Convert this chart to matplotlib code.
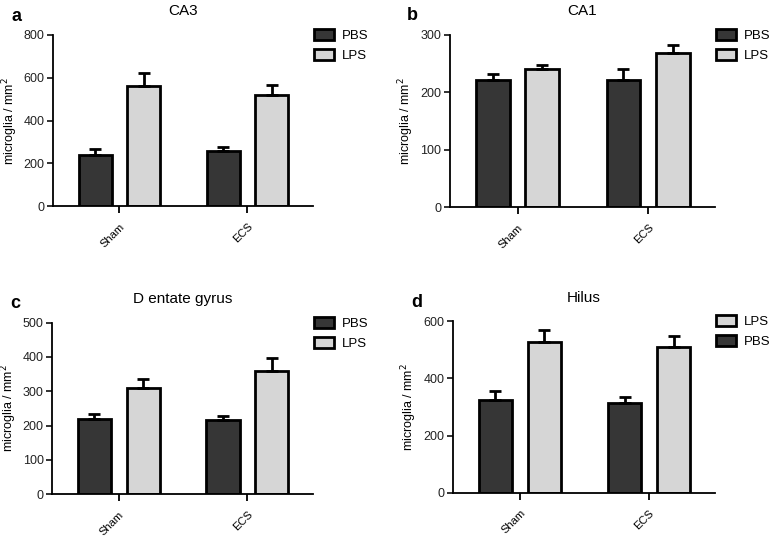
import numpy as np
import matplotlib
matplotlib.use("Agg")
import matplotlib.pyplot as plt

plt.rcParams['font.family'] = ['Liberation Sans', 'DejaVu Sans']

groups = ["Sham", "ECS"]

# panel a - CA3
ca3_pbs = [240, 258]
ca3_pbs_err = [25, 20]
ca3_lps = [560, 518]
ca3_lps_err = [60, 47]

# panel b - CA1
ca1_pbs = [222, 222]
ca1_pbs_err = [10, 19]
ca1_lps = [240, 268]
ca1_lps_err = [7, 14]

# panel c - Dentate gyrus
dg_pbs = [220, 216]
dg_pbs_err = [13, 12]
dg_lps = [310, 360]
dg_lps_err = [26, 36]

# panel d - Hilus
hil_pbs = [325, 315]
hil_pbs_err = [30, 20]
hil_lps = [528, 508]
hil_lps_err = [40, 40]

dark = "#363636"
light = "#d6d6d6"

fig = plt.figure(figsize=(7.78, 5.37), dpi=100)

panels = [
    ("a", "CA3", [0.068, 0.616, 0.334, 0.319], ca3_pbs, ca3_pbs_err, ca3_lps, ca3_lps_err, 800, 200, False),
    ("b", "CA1", [0.578, 0.614, 0.341, 0.321], ca1_pbs, ca1_pbs_err, ca1_lps, ca1_lps_err, 300, 100, False),
    ("c", "D entate gyrus", [0.067, 0.080, 0.335, 0.319], dg_pbs, dg_pbs_err, dg_lps, dg_lps_err, 500, 100, False),
    ("d", "Hilus", [0.582, 0.082, 0.337, 0.320], hil_pbs, hil_pbs_err, hil_lps, hil_lps_err, 600, 200, True),
]

x = np.arange(len(groups))
w = 0.26
off = 0.19

for letter, title, rect, pbs, pbs_e, lps, lps_e, ymax, step, swap in panels:
    ax = fig.add_axes(rect)
    ekw = dict(elinewidth=2, capthick=2, ecolor="black")
    b1 = ax.bar(x - off, pbs, w, color=dark, edgecolor="black", linewidth=2,
                yerr=[np.zeros(2), pbs_e], capsize=4.5, error_kw=ekw, label="PBS", zorder=2)
    b2 = ax.bar(x + off, lps, w, color=light, edgecolor="black", linewidth=2,
                yerr=[np.zeros(2), lps_e], capsize=4.5, error_kw=ekw, label="LPS", zorder=2)
    ax.set_xlim(-0.52, 1.51)
    ax.set_ylim(0, ymax)
    ax.set_yticks(np.arange(0, ymax + 1, step))
    ax.set_xticks(x)
    ax.set_xticklabels(groups, rotation=45, ha="right", rotation_mode="anchor", fontsize=8)
    ax.tick_params(axis="y", labelsize=9, width=1.3, length=4, pad=2, colors="#222222")
    ax.tick_params(axis="x", width=1.3, length=5, pad=6)
    for s in ["top", "right"]:
        ax.spines[s].set_visible(False)
    for s in ["left", "bottom"]:
        ax.spines[s].set_linewidth(1.3)
    ax.set_ylabel("microglia / mm$^2$", fontsize=9)
    ax.yaxis.set_label_coords(-0.128, 0.5)
    ax.set_title(title, fontsize=11, pad=14)
    ax.text(-0.16, 1.11, letter, transform=ax.transAxes, fontsize=13,
            fontweight="bold", va="center", ha="left")
    if swap:
        handles = [b2, b1]
    else:
        handles = [b1, b2]
    ax.legend(handles=handles, labels=[h.get_label() for h in handles],
              loc="upper left", bbox_to_anchor=(1.005, 1.035), frameon=False,
              borderpad=0, borderaxespad=0,
              fontsize=9.5, handlelength=1.5, handleheight=0.9, labelspacing=0.55,
              handletextpad=0.6)

fig.savefig("out.png", dpi=100)
